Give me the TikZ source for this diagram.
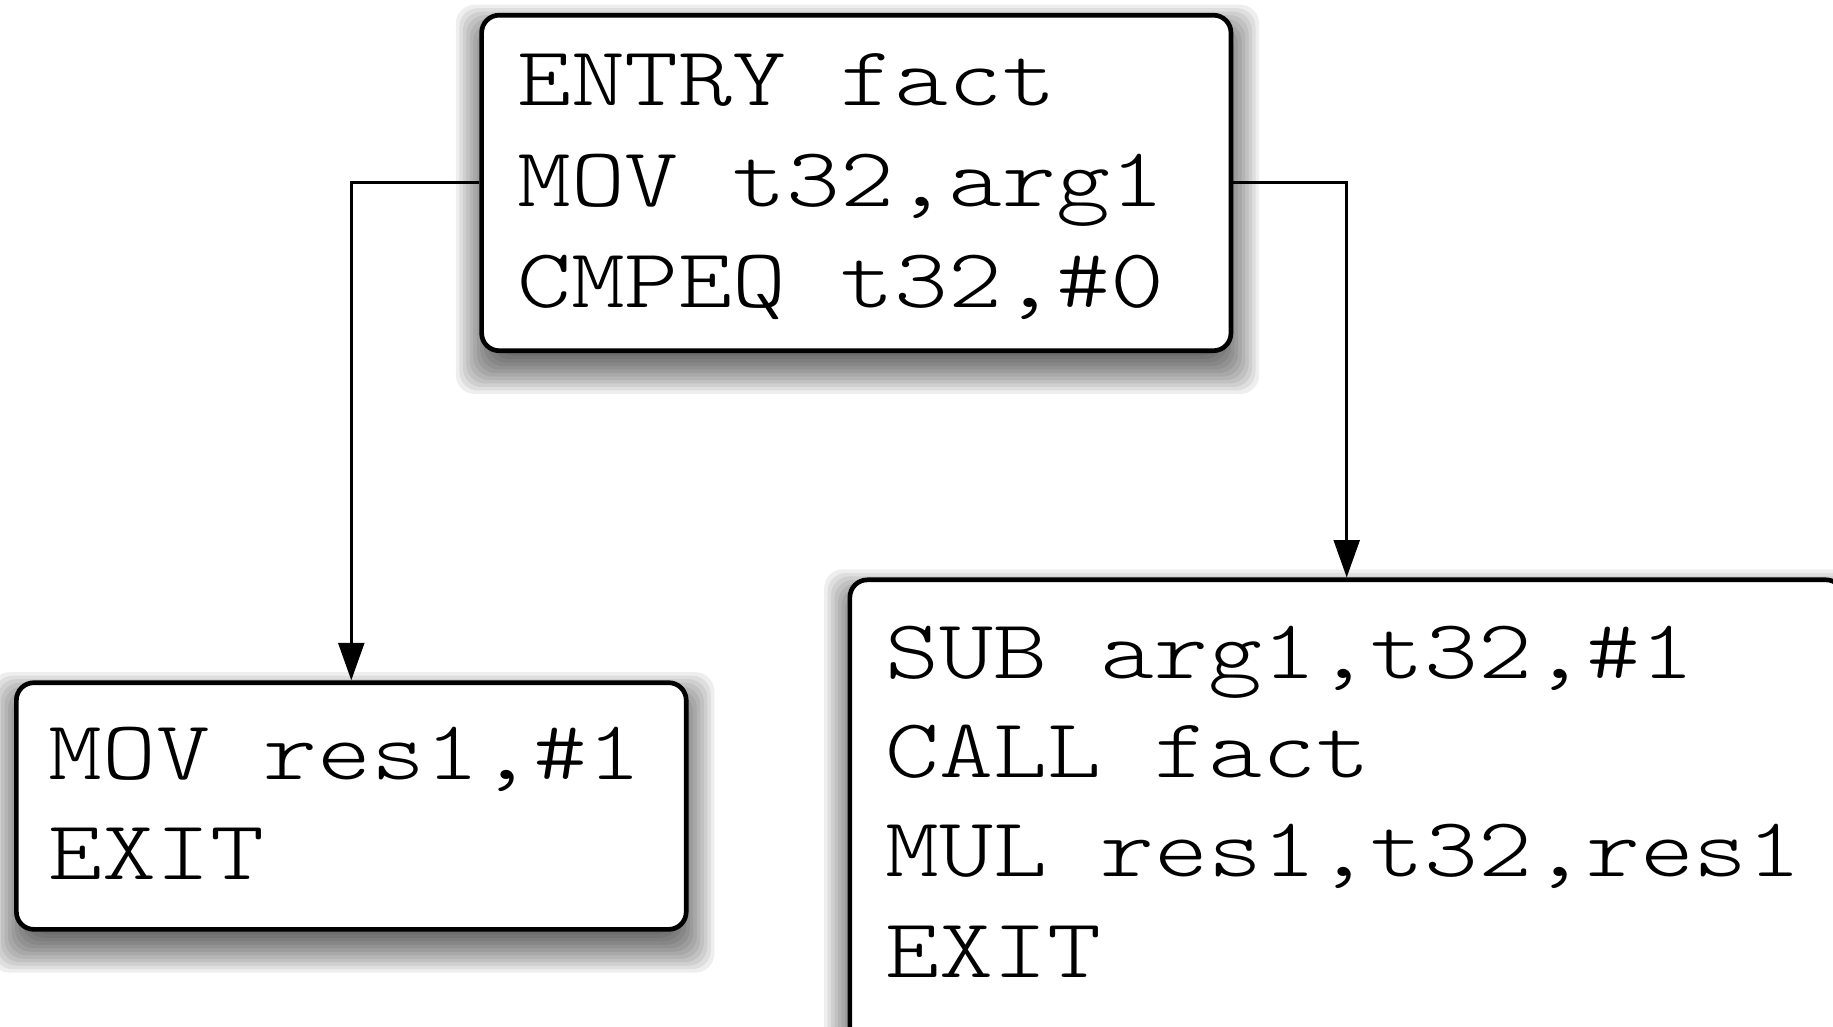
\documentclass[tikz,border=0pt]{standalone}
\usepackage{fontspec}
\setmonofont[FakeStretch=1.22]{Latin Modern Mono Light}
\usetikzlibrary{arrows.meta,calc,backgrounds}
\tikzset{
  blk/.style={draw=black, line width=2pt, fill=white, rounded corners=7.5pt, inner sep=0pt},
  code/.style={anchor=base west, inner sep=0pt, font=\ttfamily\fontsize{36}{43}\selectfont},
  conn/.style={line width=1.3pt, -{Triangle[length=16pt,width=11pt]}},
  shadelayer/.style={fill=black, opacity=0.065, rounded corners=8pt}
}
\newcommand\boxshadow[1]{%
  \foreach \e in {-12,-10.5,...,11}{%
    \fill[shadelayer] ($(#1.south west)+(0.5-\e,-7-\e)$) rectangle ($(#1.north east)+(0.5+\e,-7+\e)$);
  }%
}
\begin{document}
\begin{tikzpicture}[x=1pt,y=1pt]
\useasboundingbox (0,0) rectangle (784,-439);
\clip (0,0) rectangle (784,-439);

\node[blk, minimum width=320.5pt, minimum height=143.5pt] (entry) at (366.25,-78.25) {};
\node[blk, minimum width=286.5pt, minimum height=105.5pt] (left) at (150.25,-344.75) {};
\node[blk, minimum width=425pt, minimum height=212pt] (right) at (576,-354) {};

\begin{scope}[on background layer]
  \fill[white] (0,0) rectangle (784,-439);
  \boxshadow{entry}
  \boxshadow{left}
  \boxshadow{right}
\end{scope}

\node[code] (e1) at (221,-45) {ENTRY fact};
\node[code] (e2) at (221,-88.5) {MOV t32,arg1};
\node[code] (e3) at (221,-131.5) {CMPEQ t32,\#0};

\node[code] (l1) at (20.5,-333.5) {MOV res1,\#1};
\node[code] (l2) at (20.5,-376) {EXIT};

\node[code] (r1) at (378.5,-290) {SUB arg1,t32,\#1};
\node[code] (r2) at (378.5,-332.5) {CALL fact};
\node[code] (r3) at (378.5,-375) {MUL res1,t32,res1};
\node[code] (r4) at (378.5,-418) {EXIT};

\draw[conn] (entry.west) -| (left.north);
\draw[conn] (entry.east) -| (right.north);
\end{tikzpicture}
\end{document}
